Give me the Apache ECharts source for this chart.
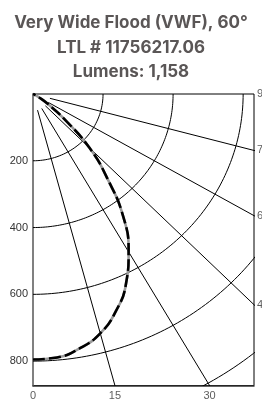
<!DOCTYPE html>
<html>
<head>
<meta charset="utf-8">
<script src="https://cdn.jsdelivr.net/npm/echarts@6/dist/echarts.min.js"></script>
<style>
  html, body { margin: 0; padding: 0; background: #fff; }
  #chart { width: 262px; height: 403px; }
</style>
</head>
<body>
<div id="chart"></div>
<script>
// chart data
const titleLines = ['Very Wide Flood (VWF), 60°', 'LTL # 11756217.06', 'Lumens: 1,158'];
const angles = [0, 5, 10, 15, 20, 25, 30, 35, 40, 45, 50, 55, 60, 65, 70, 75, 80, 85, 90];
const candela = [795, 792, 773, 742, 692, 628, 546, 450, 330, 228, 117, 50, 18, 5, 0, 0, 0, 0, 0];
const radialTicks = [200, 400, 600, 800];
const arcRadii = [200, 400, 600, 800, 1000];
const rayAngles = [15, 30, 45, 60, 75];
const bottomAngleLabels = [0, 15, 30];
const rightAngleLabels = [45, 60, 75, 90];

const xMax = 631;
const yMax = 873;
const rayStart = 50;

function toXY(r, deg) {
  const a = deg * Math.PI / 180;
  return [r * Math.sin(a), r * Math.cos(a)];
}

const gridStyle = { color: '#000', width: 1 };

const series = [];

// arcs
arcRadii.forEach((r) => {
  const pts = [];
  for (let d = 0; d <= 90; d += 1) pts.push(toXY(r, d));
  series.push({
    type: 'line', data: pts, symbol: 'none', silent: true, smooth: false,
    lineStyle: gridStyle, z: 1,
  });
});

// rays
rayAngles.forEach((deg) => {
  series.push({
    type: 'line', data: [toXY(rayStart, deg), toXY(3000, deg)], symbol: 'none', silent: true,
    lineStyle: gridStyle, z: 1,
  });
});

// candela curve
const curve = angles.map((a, i) => toXY(candela[i], a));
series.push({
  type: 'line', data: curve, symbol: 'none', smooth: true,
  lineStyle: { color: '#9a9a9a', width: 2.6 }, z: 3,
});
series.push({
  type: 'line', data: curve, symbol: 'none', smooth: true,
  lineStyle: { color: '#000', width: 2.6, type: [12, 4] }, z: 4,
});

// angle labels
series.push({
  type: 'scatter', symbolSize: 0, clip: false, silent: true,
  data: bottomAngleLabels.map((a) => [yMax * Math.tan(a * Math.PI / 180), yMax, a]),
  label: {
    show: true, position: 'bottom', distance: 5,
    formatter: (p) => String(p.value[2]),
    color: '#333', fontSize: 11, fontFamily: 'Liberation Sans',
  },
  z: 5,
});
series.push({
  type: 'scatter', symbolSize: 0, clip: false, silent: true,
  data: rightAngleLabels.map((a) => [xMax, a === 90 ? 0 : xMax / Math.tan(a * Math.PI / 180), a]),
  label: {
    show: true, position: 'right', distance: 3,
    formatter: (p) => String(p.value[2]),
    color: '#333', fontSize: 11, fontFamily: 'Liberation Sans',
  },
  z: 5,
});

const chart = echarts.init(document.getElementById('chart'));
chart.setOption({
  animation: false,
  title: {
    text: titleLines.join('\n'),
    left: 'center',
    top: 6,
    textStyle: {
      fontFamily: 'Inter', fontWeight: 'bold', fontSize: 17,
      color: '#5a5656', lineHeight: 24.5,
    },
  },
  grid: {
    left: 33, top: 94, right: 8, bottom: 17.5,
    show: true, borderColor: '#000', borderWidth: 1,
  },
  xAxis: {
    type: 'value', min: 0, max: xMax,
    axisLine: { onZero: false, lineStyle: { color: '#333', width: 1.5 } },
    axisTick: { show: false }, axisLabel: { show: false }, splitLine: { show: false },
  },
  yAxis: {
    type: 'value', min: 0, max: yMax, interval: 200, inverse: true,
    axisLine: { show: true, onZero: false, lineStyle: { color: '#808080', width: 2 } },
    axisTick: { show: false }, splitLine: { show: false },
    axisLabel: {
      color: '#333', fontSize: 11, fontFamily: 'Liberation Sans', margin: 5,
      formatter: (v) => (radialTicks.includes(v) ? String(v) : ''),
    },
  },
  series: series,
});
</script>
</body>
</html>
